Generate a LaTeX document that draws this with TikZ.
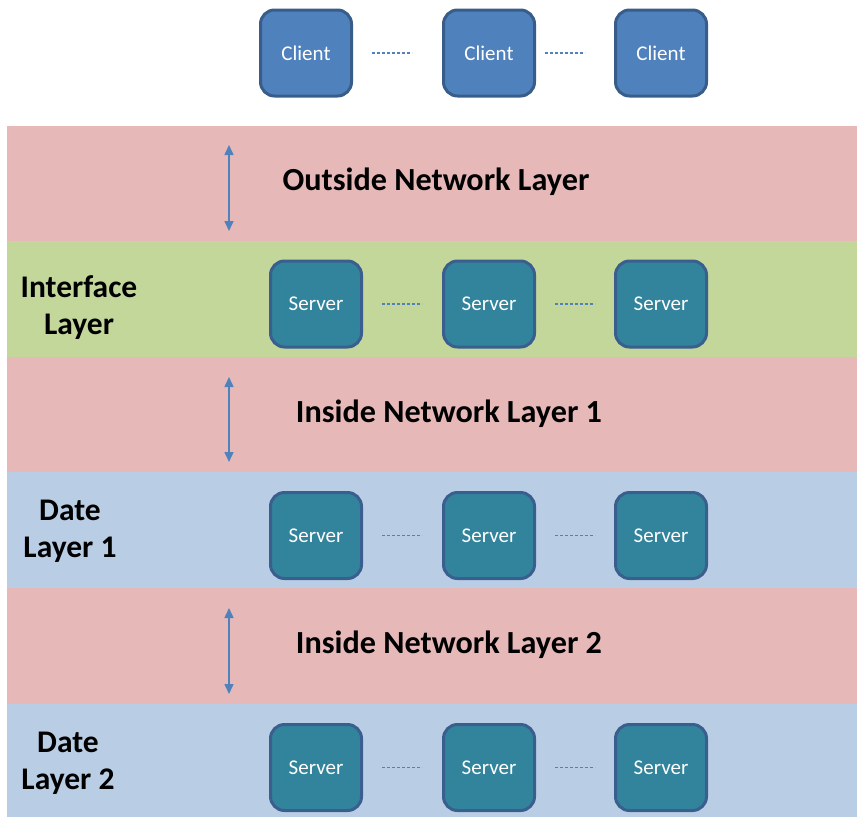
\documentclass[tikz,border=0pt]{standalone}
\usepackage{fontspec}
\setmainfont{Carlito}
\usetikzlibrary{arrows.meta}
\definecolor{bandpink}{RGB}{230,185,184}
\definecolor{bandgreen}{RGB}{196,215,155}
\definecolor{bandblue}{RGB}{185,205,229}
\definecolor{clientfill}{RGB}{79,129,189}
\definecolor{clientedge}{RGB}{56,93,138}
\definecolor{serverfill}{RGB}{49,132,155}
\definecolor{serveredge}{RGB}{58,95,143}
\definecolor{linkblue}{RGB}{79,129,189}
\begin{document}
\begin{tikzpicture}[x=1pt,y=-1pt,
  box/.style={rounded corners=14pt, line width=3pt, minimum width=91pt,
    minimum height=86pt, text=white, inner sep=0pt,
    font=\fontsize{21}{25}\selectfont},
  clientbox/.style={box, fill=clientfill, draw=clientedge},
  serverbox/.style={box, fill=serverfill, draw=serveredge},
  link/.style={draw=linkblue, line width=1.1pt, dash pattern=on 3.2pt off 1.8pt},
  updown/.style={draw=linkblue, line width=1.5pt,
    {Triangle[width=9pt,length=10pt]}-{Triangle[width=9pt,length=10pt]}},
  bandtitle/.style={font=\fontsize{32.2}{38}\selectfont\bfseries, anchor=base},
  sidetitle/.style={font=\fontsize{31.5}{37}\selectfont\bfseries, align=center},
]
\useasboundingbox (0,0) rectangle (857,817);

% horizontal layer bands
\fill[bandpink]  (7,125.5) rectangle (857,241.1);
\fill[bandgreen] (7,241.1) rectangle (857,356.7);
\fill[bandpink]  (7,356.7) rectangle (857,472.3);
\fill[bandblue]  (7,472.3) rectangle (857,587.9);
\fill[bandpink]  (7,587.9) rectangle (857,703.5);
\fill[bandblue]  (7,703.5) rectangle (857,817);

% clients
\node[clientbox] (c1) at (306,53) {Client};
\node[clientbox] (c2) at (489,53) {Client};
\node[clientbox] (c3) at (661,53) {Client};
\draw[link, shorten <=19pt, shorten >=30pt] (c1) -- (c2);
\draw[link, shorten <=9pt, shorten >=29pt] (c2) -- (c3);

% outside network layer
\node[bandtitle] (t1) at (436,190) {Outside Network Layer};
\coordinate (a1top) at (229,145);
\coordinate (a1bot) at (229,231);
\draw[updown] (a1top) -- (a1bot);

% interface layer
\node[sidetitle] (s1) at (79,308) {Interface\\Layer};
\node[serverbox] (i1) at (316,304) {Server};
\node[serverbox] (i2) at (489,304) {Server};
\node[serverbox] (i3) at (661,304) {Server};
\draw[link, shorten <=19pt, shorten >=20pt] (i1) -- (i2);
\draw[link, shorten <=19pt, shorten >=19pt] (i2) -- (i3);

% inside network layer 1
\node[bandtitle] (t2) at (449,422) {Inside Network Layer 1};
\coordinate (a2top) at (229,377);
\coordinate (a2bot) at (229,462);
\draw[updown] (a2top) -- (a2bot);

% date layer 1
\node[sidetitle] (s2) at (70,531) {Date\\Layer 1};
\node[serverbox] (d1) at (316,535.5) {Server};
\node[serverbox] (d2) at (489,535.5) {Server};
\node[serverbox] (d3) at (661,535.5) {Server};
\draw[link, shorten <=19pt, shorten >=20pt] (d1) -- (d2);
\draw[link, shorten <=19pt, shorten >=19pt] (d2) -- (d3);

% inside network layer 2
\node[bandtitle] (t3) at (449,653) {Inside Network Layer 2};
\coordinate (a3top) at (229,608);
\coordinate (a3bot) at (229,694);
\draw[updown] (a3top) -- (a3bot);

% date layer 2
\node[sidetitle] (s3) at (68,763) {Date\\Layer 2};
\node[serverbox] (e1) at (316,767.5) {Server};
\node[serverbox] (e2) at (489,767.5) {Server};
\node[serverbox] (e3) at (661,767.5) {Server};
\draw[link, shorten <=19pt, shorten >=20pt] (e1) -- (e2);
\draw[link, shorten <=19pt, shorten >=19pt] (e2) -- (e3);
\end{tikzpicture}
\end{document}
